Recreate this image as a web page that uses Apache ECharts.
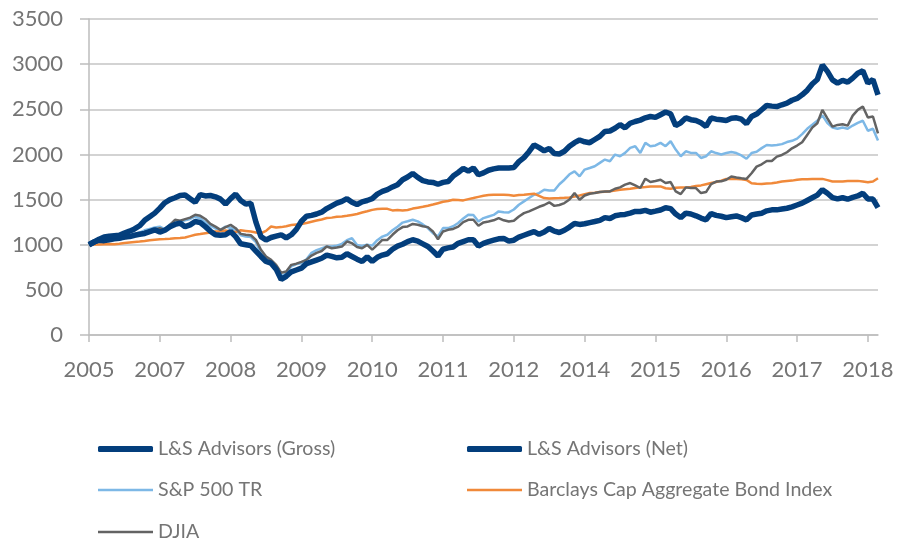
<!DOCTYPE html>
<html><head><meta charset="utf-8">
<script src="https://cdn.jsdelivr.net/npm/echarts@6/dist/echarts.min.js"></script>
<style>html,body{margin:0;padding:0;background:#fff}#c{width:898px;height:538px}</style>
</head><body><div id="c"></div>
<script>
// Tick labels shown along the category axis (one every 14 monthly points)
const xLabels = ['2005','2007','2008','2009','2010','2011','2012','2014','2015','2016','2017','2018'];
const monthsPerLabel = 14;

const gross = [
1000,1030,1060,1085,1095,1100,1105,1130,1150,1175,
1210,1270,1310,1350,1405,1465,1500,1520,1545,1550,
1510,1470,1555,1540,1545,1530,1505,1450,1510,1560,
1490,1450,1460,1250,1090,1053,1080,1095,1110,1075,
1110,1170,1260,1315,1325,1340,1360,1400,1430,1460,
1480,1510,1470,1445,1475,1490,1510,1560,1590,1610,
1640,1665,1720,1750,1790,1745,1710,1695,1690,1670,
1690,1700,1760,1800,1845,1815,1850,1775,1795,1825,
1840,1850,1850,1850,1855,1920,1965,2030,2105,2075,
2040,2065,2010,2005,2035,2090,2130,2160,2140,2130,
2165,2200,2255,2260,2290,2330,2295,2345,2365,2380,
2405,2420,2410,2440,2470,2450,2320,2350,2405,2385,
2375,2350,2310,2405,2390,2385,2375,2400,2405,2390,
2340,2420,2447,2495,2543,2535,2530,2550,2568,2600,
2620,2660,2710,2780,2830,2990,2920,2826,2790,2820,
2800,2845,2900,2926,2790,2830,2660
];
const net = [
1000,1030,1050,1045,1055,1065,1072,1085,1090,1105,
1115,1125,1145,1165,1140,1160,1200,1225,1240,1200,
1220,1257,1245,1200,1150,1110,1105,1110,1146,1090,
1010,1000,990,930,870,814,795,730,615,650,
700,720,740,790,810,830,850,885,870,855,
860,900,870,840,815,865,815,860,885,900,
950,985,1005,1035,1055,1040,1010,980,930,875,
950,965,975,1015,1035,1055,1055,985,1015,1035,
1050,1065,1070,1040,1050,1085,1105,1125,1145,1115,
1140,1180,1150,1135,1160,1195,1235,1225,1232,1245,
1257,1270,1300,1290,1320,1331,1335,1350,1368,1368,
1380,1360,1372,1385,1410,1400,1340,1300,1350,1340,
1320,1295,1276,1345,1325,1315,1300,1310,1319,1300,
1275,1330,1340,1349,1375,1386,1386,1395,1404,1420,
1440,1460,1490,1520,1550,1610,1570,1522,1507,1520,
1504,1525,1540,1570,1507,1505,1410
];
const sp500 = [
1000,1025,1045,1070,1068,1062,1065,1080,1095,1120,
1135,1160,1175,1190,1200,1170,1225,1250,1255,1270,
1285,1310,1290,1250,1210,1180,1165,1200,1185,1165,
1105,1090,1085,1030,900,845,814,740,650,684,
760,785,795,840,910,940,960,980,980,990,
1010,1050,1072,998,985,1000,990,1050,1090,1110,
1160,1200,1245,1260,1276,1258,1225,1184,1128,1091,
1184,1184,1205,1240,1290,1332,1330,1258,1295,1313,
1330,1369,1360,1358,1390,1443,1480,1517,1554,1572,
1609,1600,1600,1670,1720,1780,1813,1758,1832,1850,
1869,1906,1943,1924,1998,1980,2017,2072,2091,2017,
2128,2091,2100,2128,2091,2146,2054,1980,2035,2017,
2017,1961,1980,2035,2015,2000,2015,2026,2015,1989,
1952,2015,2030,2070,2105,2100,2105,2114,2137,2151,
2175,2225,2284,2328,2373,2432,2347,2299,2284,2299,
2284,2320,2350,2373,2262,2284,2155
];
const barclays = [
1000,1005,1002,1005,1008,1005,1010,1020,1025,1030,
1035,1042,1050,1055,1060,1062,1066,1072,1075,1080,
1095,1110,1118,1128,1135,1146,1150,1157,1146,1140,
1160,1153,1146,1135,1127,1153,1201,1190,1195,1205,
1218,1225,1230,1240,1255,1268,1280,1295,1300,1310,
1312,1320,1330,1340,1356,1370,1386,1395,1397,1397,
1380,1385,1380,1385,1400,1410,1420,1432,1445,1460,
1475,1485,1498,1495,1491,1505,1517,1530,1543,1550,
1554,1554,1554,1550,1543,1550,1554,1560,1565,1540,
1517,1512,1515,1517,1520,1524,1535,1546,1560,1572,
1575,1583,1587,1591,1600,1609,1615,1620,1628,1635,
1640,1646,1646,1646,1625,1620,1630,1635,1635,1640,
1650,1657,1670,1683,1695,1710,1729,1729,1729,1725,
1718,1681,1675,1673,1678,1681,1690,1700,1705,1710,
1720,1725,1725,1727,1729,1729,1715,1700,1700,1700,
1705,1707,1707,1700,1692,1700,1736
];
const djia = [
1000,1025,1045,1070,1068,1062,1062,1070,1080,1100,
1115,1140,1155,1170,1183,1165,1220,1276,1265,1283,
1300,1331,1320,1285,1230,1200,1165,1195,1220,1183,
1120,1110,1105,1053,943,869,832,777,690,703,
777,790,810,832,880,910,930,980,961,970,
980,1035,1017,975,960,998,945,998,1053,1053,
1110,1160,1195,1202,1230,1221,1205,1195,1147,1061,
1147,1165,1175,1200,1250,1276,1276,1210,1247,1258,
1270,1295,1270,1258,1265,1313,1350,1370,1395,1420,
1440,1470,1430,1440,1461,1500,1572,1498,1545,1565,
1572,1583,1590,1590,1620,1635,1665,1683,1657,1628,
1731,1694,1705,1720,1683,1694,1591,1561,1635,1628,
1628,1572,1583,1672,1700,1702,1720,1755,1744,1735,
1729,1792,1865,1891,1928,1928,1976,1994,2024,2068,
2098,2135,2216,2297,2345,2493,2400,2308,2327,2334,
2319,2430,2493,2530,2408,2420,2234
];

const categories = gross.map((_, i) => (i % monthsPerLabel === 0 ? (xLabels[i / monthsPerLabel] || '') : ''));

const FONT = 'Lato, "Open Sans", sans-serif';
const TXT = '#757575';
const NAVY = '#033e7c', LBLUE = '#7db8e6', ORANGE = '#f0893a', GRAY = '#636363';

function lg(name, left, top, color, h, icon) {
  return {
    data: [name], left: left, top: top, orient: 'horizontal',
    itemWidth: 55, itemHeight: h, icon: icon, padding: 0,
    itemStyle: { color: color },
    textStyle: { fontFamily: FONT, fontSize: 19.6, color: TXT },
    selectedMode: false
  };
}

const chart = echarts.init(document.getElementById('c'), null, { renderer: 'canvas' });
chart.setOption({
  animation: false,
  backgroundColor: '#fff',
  grid: { left: 89, right: 20, top: 19, bottom: 203, containLabel: false, outerBoundsMode: 'none' },
  legend: [
    lg('L&S Advisors (Gross)', 98, 439, NAVY, 6, 'roundRect'),
    lg('L&S Advisors (Net)', 467, 439, NAVY, 6, 'roundRect'),
    lg('S&P 500 TR', 98, 480, LBLUE, 2.5, 'rect'),
    lg('Barclays Cap Aggregate Bond Index', 467, 480, ORANGE, 2.5, 'rect'),
    lg('DJIA', 98, 522, GRAY, 2.5, 'rect')
  ],
  xAxis: {
    type: 'category', data: categories, boundaryGap: false,
    axisLine: { show: true, lineStyle: { color: '#bdbdbd', width: 1.5 } },
    axisTick: { show: true, interval: monthsPerLabel - 1, length: 7, lineStyle: { color: '#bdbdbd', width: 1.5 } },
    axisLabel: { interval: monthsPerLabel - 1, margin: 24, fontFamily: FONT, fontSize: 22, color: TXT },
    splitLine: { show: false }
  },
  yAxis: {
    type: 'value', min: 0, max: 3500, interval: 500,
    axisLine: { show: true, lineStyle: { color: '#bdbdbd', width: 1.5 } },
    axisTick: { show: true, length: 9, lineStyle: { color: '#bdbdbd', width: 1.5 } },
    axisLabel: { margin: 26, fontFamily: FONT, fontSize: 22, color: TXT, formatter: v => String(v) },
    splitLine: { show: true, lineStyle: { color: '#c4c4c4', width: 1.5 } }
  },
  series: [
    { name: 'L&S Advisors (Gross)', type: 'line', data: gross, symbol: 'none', z: 6, lineStyle: { color: NAVY, width: 5.5 }, itemStyle: { color: NAVY } },
    { name: 'L&S Advisors (Net)', type: 'line', data: net, symbol: 'none', z: 5, lineStyle: { color: NAVY, width: 5.5 }, itemStyle: { color: NAVY } },
    { name: 'S&P 500 TR', type: 'line', data: sp500, symbol: 'none', z: 2, lineStyle: { color: LBLUE, width: 2.5 }, itemStyle: { color: LBLUE } },
    { name: 'Barclays Cap Aggregate Bond Index', type: 'line', data: barclays, symbol: 'none', z: 3, lineStyle: { color: ORANGE, width: 2.5 }, itemStyle: { color: ORANGE } },
    { name: 'DJIA', type: 'line', data: djia, symbol: 'none', z: 4, lineStyle: { color: GRAY, width: 2.5 }, itemStyle: { color: GRAY } }
  ]
});
</script></body></html>
